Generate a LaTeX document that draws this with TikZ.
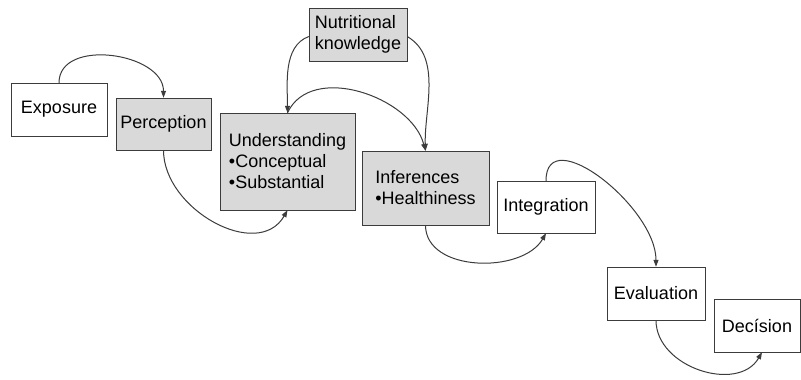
\documentclass[tikz,border=0pt]{standalone}
\usepackage{fontspec}
\setmainfont{Liberation Sans}
\usepackage{xcolor}
\definecolor{Box Grey}{HTML}{D9D9D9}
\definecolor{Line Grey}{HTML}{3C3C3C}
\colorlet{cFill}{Box Grey}
\colorlet{cLine}{Line Grey}
\usepackage{tikz}
\usetikzlibrary{positioning, arrows.meta}
\tikzset{
	line width = 1.2pt,
	font = \fontsize{18}{21}\selectfont,
	stage/.style={
		draw=cLine,
		fill=white,
		rectangle,
		inner sep=4pt,
		align=left
	},
	grey stage/.style={
		stage,
		fill=cFill
	},
	flow/.style={
		draw=cLine,
		line width=1pt,
		-{Triangle[length=7pt,width=5pt]}
	}
}

\begin{document}
\begin{tikzpicture}[x=1pt, y=-1pt]
        \useasboundingbox (0,0) rectangle (801,380);
        \node (exp) [stage, minimum width=96pt, minimum height=53pt] at (59,109.5) {Exposure};
        \node (per) [grey stage, minimum width=95pt, minimum height=52pt] at (163.5,124) {Perception};
        \node (und) [grey stage, minimum width=135pt, minimum height=97pt] at (287.5,161.5) {Understanding\\•Conceptual\\•Substantial};
        \node (nut) [grey stage, minimum width=98pt, minimum height=53pt] at (358,34.5) {Nutritional\\knowledge};
        \node (inf) [grey stage, minimum width=127pt, minimum height=74pt] at (425.5,188) {Inferences\\•Healthiness};
        \node (int) [stage, minimum width=98pt, minimum height=52pt] at (546,207) {Integration};
        \node (eva) [stage, minimum width=98pt, minimum height=53pt] at (656,293.5) {Evaluation};
        \node (dec) [stage, minimum width=86pt, minimum height=53pt] at (757,325.5) {Decísion};

        \draw[flow] (exp.north) to[out=90, in=90, looseness=1.1] (per.north);
        \draw[flow] (per.south) to[out=-90, in=-120, looseness=1.1] (und.south);
        \draw[flow] ([yshift=-2pt]nut.west) to[out=200, in=90, looseness=0.9] (und.north);
        \draw[flow] ([yshift=-2pt]nut.east) to[out=-30, in=92, looseness=0.9] (inf.north);
        \draw[flow] (und.north) to[out=65, in=105, looseness=1] (inf.north);
        \draw[flow] (inf.south) to[out=-90, in=-120, looseness=1] (int.south);
        \draw[flow] (int.north) to[out=90, in=90, looseness=1.1] (eva.north);
        \draw[flow] (eva.south) to[out=-90, in=-120, looseness=1.1] ([xshift=5pt]dec.south);
    \end{tikzpicture}
\end{document}
